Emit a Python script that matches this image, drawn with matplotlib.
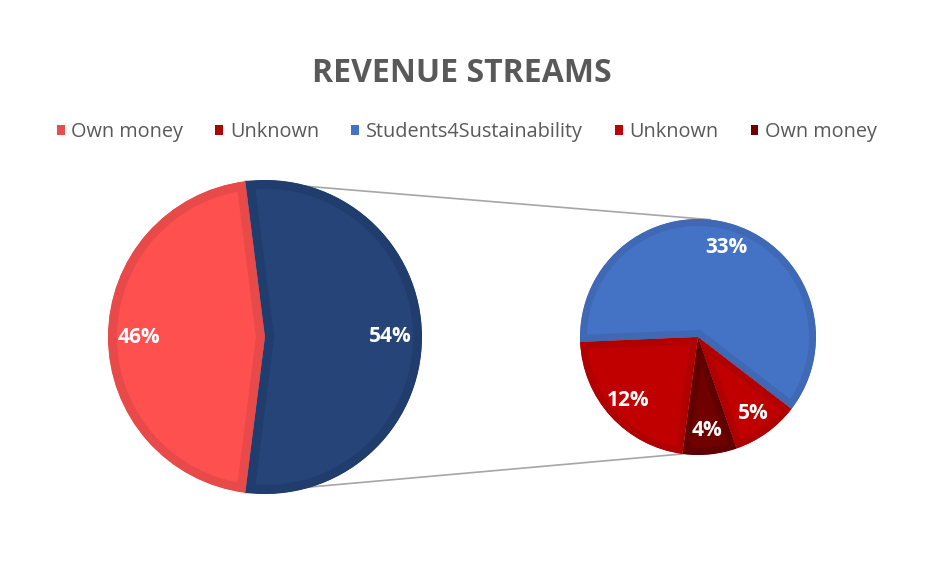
import numpy as np
import matplotlib.pyplot as plt
from matplotlib.patches import Patch

plt.rcParams['font.family'] = ['Open Sans', 'DejaVu Sans']

# main pie: own money vs. the "other" slice that is split in the second pie
main_labels = ['Own money', 'Other']
main_values = [46, 54]
main_colors = ['#FF5050', '#264478']
main_edges = ['#E84A4A', '#203D6E']

# secondary pie, drawn clockwise from the left
sub_labels = ['Students4Sustainability', 'Unknown', 'Own money', 'Unknown']
sub_values = [33, 5, 4, 12]
sub_colors = ['#4472C4', '#C00000', '#700000', '#C00000']
sub_edges = ['#3F68B5', '#B00000', '#600000', '#B00000']

legend_labels = ['Own money', 'Unknown', 'Students4Sustainability', 'Unknown', 'Own money']
legend_colors = ['#E84C4C', '#B00000', '#4472C4', '#C00000', '#700000']

W, H = 948, 563
fig = plt.figure(figsize=(W / 100, H / 100), dpi=100)
ax = fig.add_axes([0, 0, 1, 1])

main_center, main_r = (265, H - 337), 157
sub_center, sub_r = (698, H - 337), 118

# main pie: "other" slice centred on the right
half_other = 180 * main_values[1] / sum(main_values)
wedges, texts, autotexts = ax.pie(
    main_values, colors=main_colors, startangle=half_other, counterclock=True,
    center=main_center, radius=main_r, autopct='%1.0f%%', pctdistance=0.8,
    wedgeprops=dict(linewidth=13), textprops=dict(color='white', fontsize=15, fontweight='bold'))
for w, ec in zip(wedges, main_edges):
    w.set_edgecolor(ec)
    w.set_clip_on(True)
    w.set_clip_path(w.get_path(), w.get_transform())

# second pie, same percentages as the whole
sub_start = 182.4
sub_total = sum(sub_values)
wedges2, texts2, autotexts2 = ax.pie(
    sub_values, colors=sub_colors, startangle=sub_start, counterclock=False,
    center=sub_center, radius=sub_r, autopct=lambda p: f'{p * sub_total / 100:.0f}%',
    pctdistance=0.8, wedgeprops=dict(linewidth=10),
    textprops=dict(color='white', fontsize=15, fontweight='bold'))
for w, ec in zip(wedges2, sub_edges):
    w.set_edgecolor(ec)
    w.set_clip_on(True)
    w.set_clip_path(w.get_path(), w.get_transform())

ax.set_xlim(0, W)
ax.set_ylim(0, H)
ax.set_aspect('equal')
ax.axis('off')

# connector lines
main_angles = [half_other, -half_other]
sub_angles = [84, sub_start - 360 * sum(sub_values[:3]) / sub_total]
for a1, a2 in zip(main_angles, sub_angles):
    x1 = main_center[0] + main_r * np.cos(np.radians(a1))
    y1 = main_center[1] + main_r * np.sin(np.radians(a1))
    x2 = sub_center[0] + sub_r * np.cos(np.radians(a2))
    y2 = sub_center[1] + sub_r * np.sin(np.radians(a2))
    ax.plot([x1, x2], [y1, y2], color='#A6A6A6', lw=1.2, zorder=0)

fig.text(462 / W, 1 - 74 / H, 'REVENUE STREAMS', ha='center', va='center',
         fontsize=23, fontweight='bold', color='#595959')

handles = [Patch(facecolor=c, edgecolor='none') for c in legend_colors]
fig.legend(handles, legend_labels, ncol=5, loc='center', bbox_to_anchor=(467 / W, 1 - 132 / H),
           frameon=False, fontsize=14.3, labelcolor='#595959', handlelength=0.4, handleheight=0.4,
           handletextpad=0.35, columnspacing=1.6)

fig.savefig('out.png', dpi=100)
